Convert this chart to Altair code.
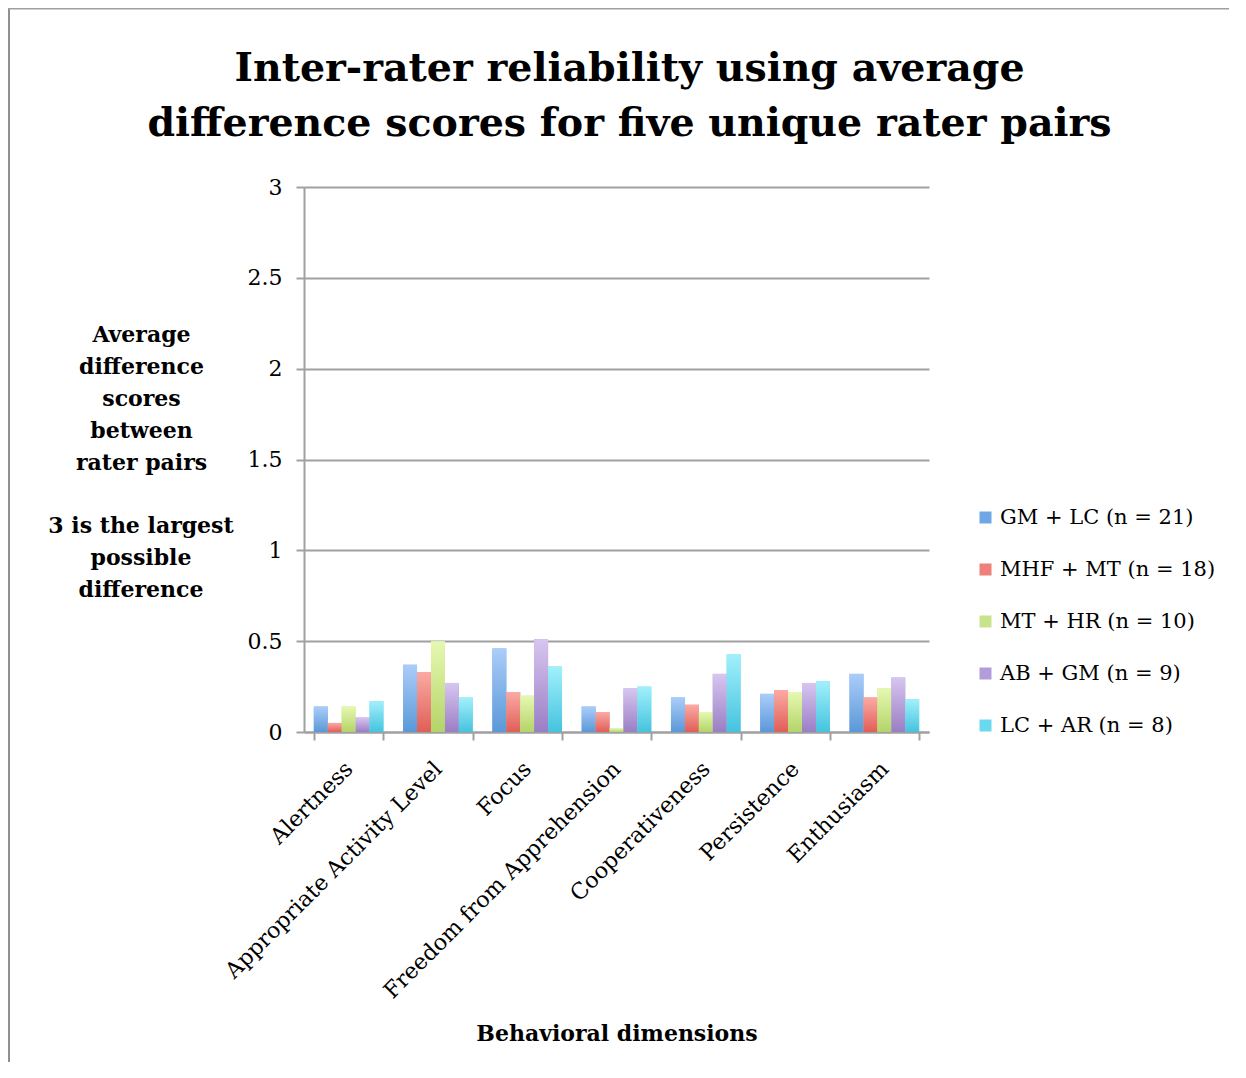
import altair as alt
import pandas as pd

dims = ["Alertness", "Appropriate Activity Level", "Focus", "Freedom from Apprehension",
        "Cooperativeness", "Persistence", "Enthusiasm"]
series = ["GM + LC (n = 21)", "MHF + MT (n = 18)", "MT + HR (n = 10)",
          "AB + GM (n = 9)", "LC + AR (n = 8)"]
gm_lc = [0.14, 0.37, 0.46, 0.14, 0.19, 0.21, 0.32]
mhf_mt = [0.05, 0.33, 0.22, 0.11, 0.15, 0.23, 0.19]
mt_hr = [0.14, 0.50, 0.20, 0.02, 0.11, 0.22, 0.24]
ab_gm = [0.08, 0.27, 0.51, 0.24, 0.32, 0.27, 0.30]
lc_ar = [0.17, 0.19, 0.36, 0.25, 0.43, 0.28, 0.18]
values = [gm_lc, mhf_mt, mt_hr, ab_gm, lc_ar]

y_title_top = ["Average", "difference", "scores", "between", "rater pairs"]
y_title_note = ["3 is the largest", "possible", "difference"]

flat = ["#6fa6e6", "#ee7f79", "#c8e48a", "#b39cdc", "#6ad9ee"]
tops = ["#abcdf9", "#fbaaa4", "#e6f8b2", "#d7c6f0", "#a2f0fb"]
bots = ["#5a98d8", "#e05e57", "#b4d468", "#9a7ec4", "#45c3de"]

rows = []
for s, vals in zip(series, values):
    for d, v in zip(dims, vals):
        rows.append({"dim": d, "series": s, "value": v})
df = pd.DataFrame(rows)

FONT = "DejaVu Serif"
GRAY = "#a0a0a0"
W, H = 625, 545
PAD = {"left": 296, "top": 179, "right": 300, "bottom": 330}

x_enc = alt.X("dim:N", sort=dims,
              scale=alt.Scale(paddingInner=0.22, paddingOuter=0.11),
              axis=alt.Axis(title="Behavioral dimensions", labelAngle=-45, labelAlign="right",
                            labelBaseline="middle", labelFontSize=22.2, labelFont=FONT,
                            labelColor="#000000", labelPadding=25, labelLimit=0,
                            tickBand="extent", tickSize=8, tickColor=GRAY, tickWidth=2,
                            domainColor=GRAY, domainWidth=2,
                            titleFont=FONT, titleFontSize=22, titleFontWeight="bold",
                            titleColor="#000000", titleY=301, titleBaseline="middle"))
xo_enc = alt.XOffset("series:N", sort=series,
                     scale=alt.Scale(domain=series, paddingInner=0, paddingOuter=0))
y_enc = alt.Y("value:Q", scale=alt.Scale(domain=[0, 3], nice=False),
              axis=alt.Axis(values=[0, 0.5, 1, 1.5, 2, 2.5, 3], format="~g",
                            title=y_title_top,
                            titleAngle=0, titleAlign="center", titleBaseline="top",
                            titleX=-163, titleY=137, titleLineHeight=32,
                            titleFont=FONT, titleFontSize=22, titleFontWeight="bold",
                            titleColor="#000000",
                            labelFont=FONT, labelFontSize=22, labelColor="#000000",
                            labelPadding=14, tickSize=8, tickColor=GRAY, tickWidth=2,
                            domainColor=GRAY, domainWidth=2,
                            gridColor=GRAY, gridWidth=2))

base = alt.Chart(df).mark_bar().encode(
    x=x_enc, xOffset=xo_enc, y=y_enc,
    color=alt.Color("series:N", sort=series,
                    scale=alt.Scale(domain=series, range=flat),
                    legend=alt.Legend(title=None, orient="none", legendX=671, legendY=320,
                                      symbolType="square", symbolSize=144, symbolStrokeWidth=0,
                                      labelFont=FONT, labelFontSize=21, labelColor="#000000",
                                      labelLimit=0, rowPadding=30, padding=0, labelOffset=4))
)

layers = [base]
for s, t, b in zip(series, tops, bots):
    layers.append(
        alt.Chart(df).transform_filter(alt.datum.series == s).mark_bar(
            color=alt.Gradient(gradient="linear", x1=0, y1=0, x2=0, y2=1,
                               stops=[alt.GradientStop(color=t, offset=0),
                                      alt.GradientStop(color=b, offset=1)])
        ).encode(x=alt.X("dim:N", sort=dims), xOffset=xo_enc, y=alt.Y("value:Q"))
    )

note = alt.Chart(pd.DataFrame({"a": [0]})).mark_text(
    text=y_title_note, font=FONT, fontSize=22, fontWeight="bold", color="#000000",
    align="center", baseline="top", lineHeight=32
).encode(x=alt.value(-163), y=alt.value(329))

frame_left = alt.Chart(pd.DataFrame({"a": [0]})).mark_rule(color="#909090", strokeWidth=2).encode(
    x=alt.value(-295), y=alt.value(-179), y2=alt.value(H + PAD["bottom"]))
frame_top = alt.Chart(pd.DataFrame({"a": [0]})).mark_rule(color="#a0a0a0", strokeWidth=2).encode(
    x=alt.value(-296), x2=alt.value(W + PAD["right"]), y=alt.value(-178.5))
layers += [note, frame_left, frame_top]

chart = alt.layer(*layers).properties(
    width=W, height=H,
    title=alt.TitleParams(text=["Inter-rater reliability using average",
                                "difference scores for five unique rater pairs"],
                          font=FONT, fontSize=39.5, fontWeight="bold", color="#000000",
                          lineHeight=55, anchor="middle", dx=13, offset=-137),
    autosize=alt.AutoSizeParams(type="none"),
    padding=PAD,
).configure(background="#ffffff", view=alt.ViewConfig(stroke=None))

chart.save("out.html", embed_options={"renderer": "svg", "actions": False})
